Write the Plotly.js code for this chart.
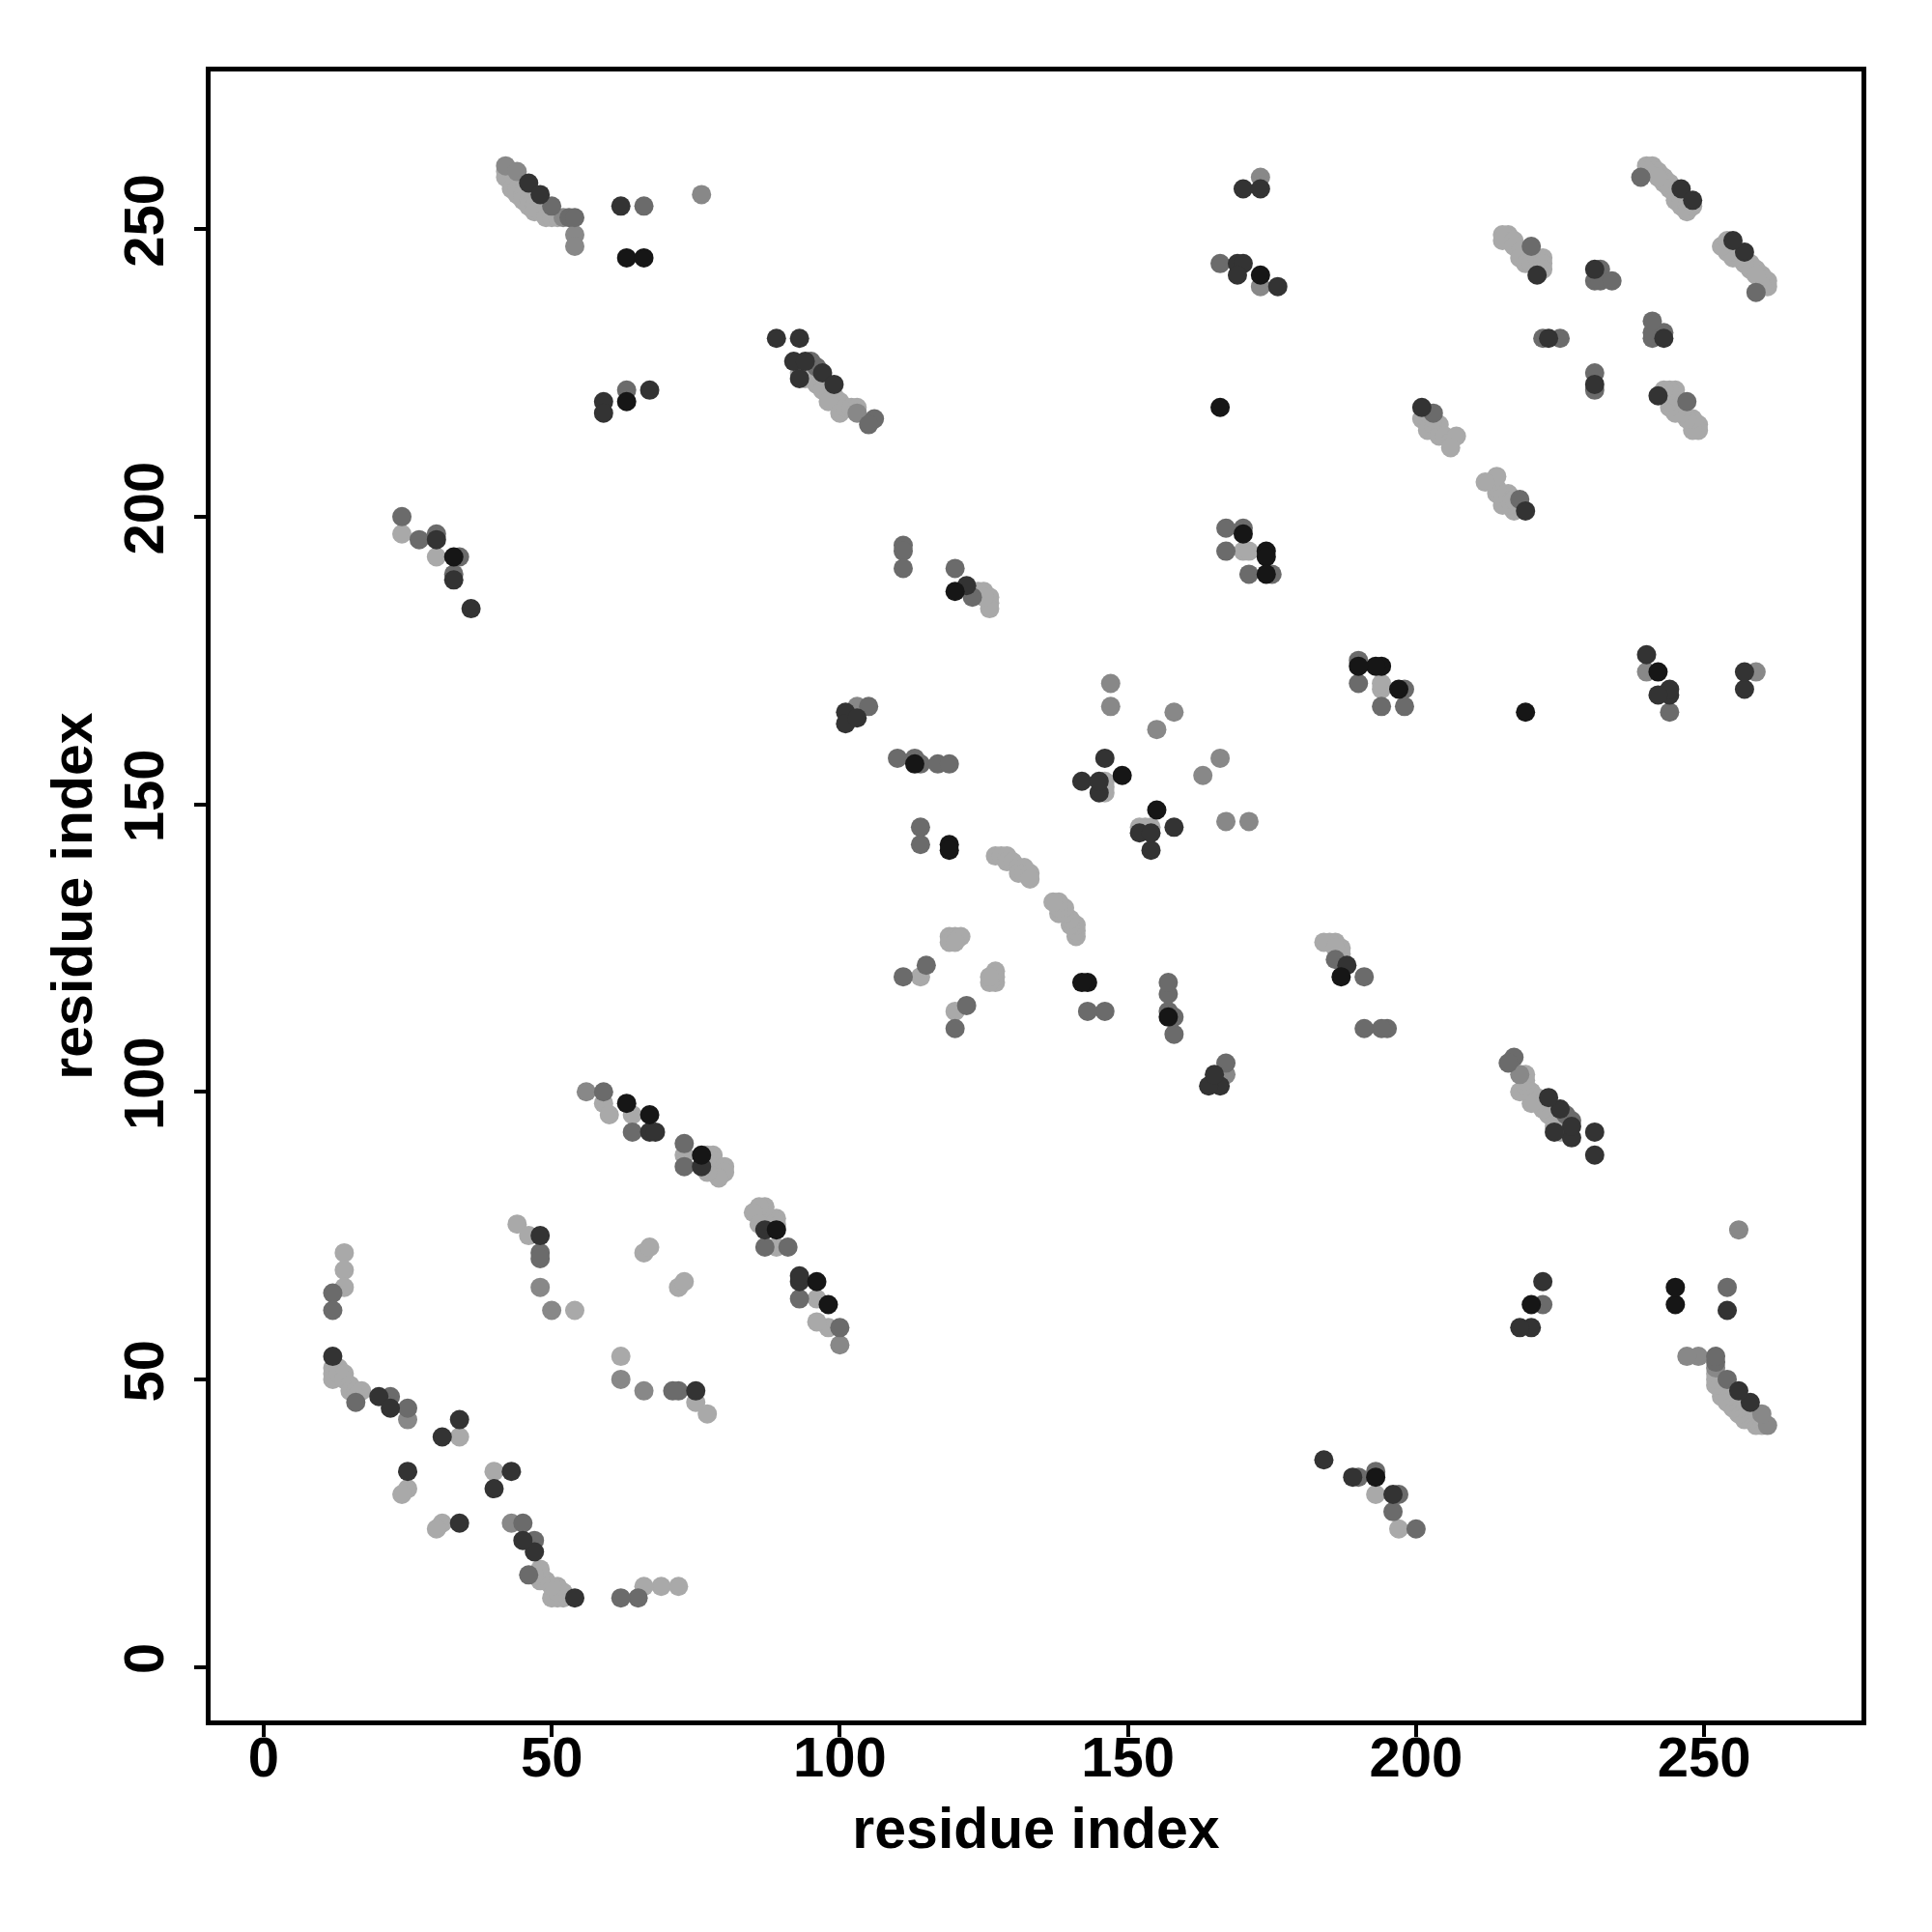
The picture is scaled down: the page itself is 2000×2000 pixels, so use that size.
<!DOCTYPE html>
<html>
<head>
<meta charset="utf-8">
<script src="https://cdn.plot.ly/plotly-3.0.1.min.js"></script>
<style>html,body{margin:0;padding:0;background:#fff;}#chart{width:2000px;height:2000px;}</style>
</head>
<body>
<div id="chart"></div>
<script>
// Contact pairs (residue i < residue j); each contact is drawn at (i,j) and (j,i)
const contactI = [
  14,14,14,12,12,12,12,12,12,13,13,14,14,15,15,16,17,16,16,20,22,22,25,25,31,34,34,25,25,24,44,46,48,48,48,48,50,54,66,67,
  56,59,59,60,63,64,67,64,67,68,73,73,73,76,76,77,78,78,79,80,80,79,77,
  24,24,27,30,30,30,33,34,33,33,36,
  42,44,46,48,50,52,53,54,54,54,42,42,43,43,44,44,45,45,46,46,47,47,48,49,49,50,51,
  62,66,63,66,76,
  59,59,63,63,67,
  89,93,92,94,95,96,97,99,93,93,94,95,96,97,98,99,100,98,100,101,102,103,103,106,105,
  101,101,102,103,105,103,
  110,113,113,114,117,119,
  114,114,119,119,
  127,128,129,129,130,131,132,131,132,133,133,
  111,114,115,119,120,121,119,120,
  142,146,145,145,146,146,146,149,
  147,147,158,155,
  111,111,111,120,120,122,123,124,125,126,126,126,125,
  167,170,170,167,170,171,174,174,171,174,175,
  166,
  170,173,173,166,169,170,169,173,173,176,
  201,203,201,202,202,203,204,204,205,206,207,206,203,202,
  216,215,215,217,217,218,218,219,220,221,222,222,222,220,221,
  222,223,225,
  231,232,231,232,234,
  239,246,248,240,241,241,242,243,243,244,244,245,245,246,246,247,247,248,240,242
];
const contactJ = [
  72,69,66,65,62,54,52,51,50,52,51,51,50,49,48,48,48,47,46,47,47,45,45,43,40,43,40,34,31,30,77,75,75,72,71,66,62,62,72,73,
  100,100,98,96,98,96,96,93,93,93,91,89,87,89,87,89,89,88,87,87,86,85,86,
  200,197,196,197,196,193,193,193,190,189,184,
  261,260,258,256,254,252,252,252,249,247,260,259,258,257,257,256,256,255,255,254,254,253,253,253,252,252,252,
  254,254,245,245,256,
  220,218,222,220,222,
  231,231,227,227,227,226,225,223,224,225,224,224,223,222,221,221,220,220,218,219,219,219,218,217,216,
  166,164,165,167,167,165,
  158,158,157,157,157,157,
  146,143,143,142,
  141,141,141,140,140,139,139,138,138,138,137,
  120,120,122,127,127,127,126,126,
  154,158,152,154,152,154,153,155,
  171,167,166,163,
  195,194,191,191,187,188,186,187,187,186,185,184,186,
  198,198,197,194,194,194,194,193,190,190,190,
  219,
  257,257,259,244,244,244,242,242,240,240,
  219,218,217,216,215,216,216,214,214,213,214,212,217,218,
  249,249,248,248,247,246,245,244,244,245,245,244,243,247,242,
  231,231,231,
  243,243,241,241,241,
  259,257,255,261,261,260,260,259,258,258,257,256,255,255,254,254,253,254,260,259
];
// Grey level of each contact: 1 = darkest ... 5 = lightest
const contactLevel = [
  5,5,5,3,3,2,5,5,5,5,5,5,5,5,5,5,5,5,3,2,3,2,3,4,2,2,5,2,5,5,5,5,2,3,3,4,4,5,5,5,
  4,3,5,5,1,5,1,3,2,2,3,5,3,1,2,5,5,5,5,5,5,5,5,
  3,5,3,3,2,5,1,3,3,2,2,
  4,4,2,2,3,4,3,3,4,4,5,5,5,5,5,5,5,5,5,5,5,5,5,5,5,5,5,
  2,3,1,1,4,
  2,2,3,1,2,
  2,2,2,2,3,3,2,2,2,5,5,5,5,5,5,5,5,5,5,5,5,5,4,3,3,
  2,2,5,4,3,2,
  3,3,1,3,3,3,
  3,3,1,1,
  5,5,5,5,5,5,5,5,5,5,5,
  3,5,3,5,5,5,5,5,
  2,2,2,2,5,5,5,1,
  4,4,4,4,
  3,3,3,3,1,2,3,5,5,5,5,5,5,
  3,3,1,3,5,5,1,1,3,1,3,
  1,
  2,2,4,3,2,2,2,1,4,2,
  2,3,5,5,5,5,5,5,5,5,5,5,5,5,
  5,5,5,5,5,5,5,5,5,5,5,5,5,3,2,
  3,2,3,
  2,3,3,3,3,
  3,2,2,5,5,5,5,5,5,5,5,5,5,5,5,5,5,5,5,5
];
const levelColors = ['#161616', '#333333', '#6b6b6b', '#888888', '#a9a9a9'];
const tickValues = [0, 50, 100, 150, 200, 250];
const axisLabel = 'residue index';

const traces = [];
for (let L = 5; L >= 1; L--) {
  const ii = [], jj = [];
  for (let k = 0; k < contactI.length; k++) {
    if (contactLevel[k] === L) { ii.push(contactI[k]); jj.push(contactJ[k]); }
  }
  traces.push({
    type: 'scatter', mode: 'markers',
    x: ii.concat(jj), y: jj.concat(ii),
    marker: {size: 20, color: levelColors[L - 1], line: {width: 0}},
    hoverinfo: 'x+y', showlegend: false
  });
}

const font = {family: 'Liberation Sans, Arial, Helvetica, sans-serif', size: 58, color: '#000', weight: 'bold'};
const axisCommon = {
  tickvals: tickValues, ticktext: tickValues.map(String),
  ticks: 'outside', ticklen: 12, tickwidth: 4, tickcolor: '#000',
  showline: true, linewidth: 5, linecolor: '#000', mirror: true,
  showgrid: false, zeroline: false, automargin: false,
  tickfont: font
};
const layout = {
  width: 2000, height: 2000,
  margin: {l: 218, r: 73, t: 74, b: 219, pad: 0},
  paper_bgcolor: '#fff', plot_bgcolor: '#fff',
  xaxis: Object.assign({}, axisCommon, {range: [-9.2, 277.3], ticklabelstandoff: -29,
    title: {text: axisLabel, font: Object.assign({}, font, {size: 59}), standoff: 24}}),
  yaxis: Object.assign({}, axisCommon, {range: [-9.3, 277.4], tickangle: -90, ticklabelstandoff: 9,
    title: {text: axisLabel, font: Object.assign({}, font, {size: 59}), standoff: 3}}),
  showlegend: false
};
Plotly.newPlot('chart', traces, layout, {displayModeBar: false, staticPlot: true});
</script>
</body>
</html>
